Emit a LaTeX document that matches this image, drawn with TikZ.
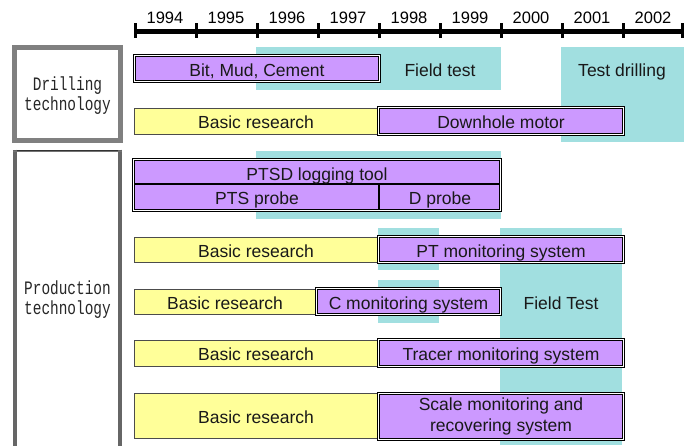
\documentclass[tikz,border=0pt]{standalone}
\usepackage{fontspec}
\setmainfont{Liberation Sans}
\newfontfamily\monofont[FakeStretch=0.76]{Liberation Mono}
\definecolor{lavender}{RGB}{204,153,255}
\definecolor{paleyel}{RGB}{255,255,153}
\definecolor{turq}{RGB}{161,223,224}
\definecolor{boxgray}{RGB}{128,128,128}

\begin{document}
\begin{tikzpicture}[x=1pt,y=-1pt,
  sz/.style 2 args={minimum width=#1pt, minimum height=#2pt},
  txt/.style={inner sep=0pt, align=center, text=black!90, font=\fontsize{17.5}{21}\selectfont},
  mid/.style={text height=15.4pt, text depth=0pt},
  bg/.style={fill=turq, inner sep=0pt},
  basic/.style={draw=black!70, fill=paleyel, line width=0.9pt, txt, mid},
  toolframe/.style={draw=black, double=white, line width=1.1pt, double distance=1.2pt, fill=lavender, txt},
  tool/.style={toolframe, mid},
  lbl/.style={txt, mid},
  yr/.style={inner sep=0pt, font=\fontsize{16.5}{18}\selectfont},
  sect/.style={inner sep=0pt, align=center, text=black!85, font=\monofont\fontsize{19}{20}\selectfont},
  axis/.style={line width=4.5pt},
  tick/.style={line width=3pt}]
\useasboundingbox (0,0) rectangle (684,445);

% time axis
\coordinate (T0) at (134,31.5);
\coordinate (T1) at (684,31.5);
\draw[axis] (T0) -- (T1);
\foreach \yr [count=\i from 0] in {1994,...,2002} {
  \draw[tick] ({135.5+61*\i},23) -- ({135.5+61*\i},38);
  \node[yr] (Y\yr) at ({165+61*\i},18) {\yr};
}
\draw[tick] (682.5,23) -- (682.5,38);

% section boxes
\node[draw=boxgray, line width=5pt, sz={106}{93}] (DRL) at (67.5,94) {};
\node[sect] (DRLT) at (67.5,96) {Drilling\\technology};
\node[draw=black!80, line width=1pt, sz={108}{300}] (PRD) at (67.5,300) {};
\draw[line width=4pt, draw=black!60] ([xshift=2pt]PRD.north west) -- ([xshift=2pt]PRD.south west);
\draw[line width=4pt, draw=black!60] ([xshift=-2pt]PRD.north east) -- ([xshift=-2pt]PRD.south east);
\draw[line width=1pt, draw=black!55] ([yshift=-2pt]PRD.north west) -- ([yshift=-2pt]PRD.north east);
\node[sect] (PRDT) at (67.5,300) {Production\\technology};

% field tests
\node[bg, sz={245}{43}] (FT1) at (378.5,68.5) {};
\node[bg, sz={123}{95}] (TD) at (622.5,94.5) {};
\node[bg, sz={245}{68}] (FT2) at (378.5,185) {};
\node[bg, sz={61}{42}] (FT3) at (408.5,249) {};
\node[bg, sz={61}{43}] (FT4) at (408.5,301.5) {};
\node[bg, sz={122}{217}] (FT5) at (561,336.5) {};
\node[lbl] (FT1L) at (440,69) {Field test};
\node[lbl] (TDL) at (622,69) {Test drilling};
\node[lbl] (FT5L) at (561,302) {Field Test};

% basic research
\node[basic, sz={244}{26}] (BR1) at (256,121) {Basic research};
\node[basic, sz={244}{25}] (BR2) at (256,249.5) {Basic research};
\node[basic, sz={182}{25}] (BR3) at (225,301.5) {Basic research};
\node[basic, sz={244}{26}] (BR4) at (256,353) {Basic research};
\node[basic, sz={244}{45}] (BR5) at (256,415.5) {Basic research};

% development items
\node[tool, sz={244.6}{25.6}] (BMC) at (257,68.5) {Bit, Mud, Cement};
\node[tool, sz={244.6}{26.6}] (DHM) at (501,121) {Downhole motor};
\node[toolframe, sz={366.6}{50.6}] (PTSD) at (317,185) {};
\draw[line width=1.2pt] ([xshift=1.7pt,yshift=1pt]PTSD.west) -- ([xshift=-1.7pt,yshift=1pt]PTSD.east);
\draw[line width=1.2pt] ([xshift=62pt,yshift=1pt]PTSD.center) -- ([xshift=62pt,yshift=1.7pt]PTSD.south);
\node[lbl] (LOG) at (317,173) {PTSD logging tool};
\node[lbl] (PTS) at (257,197) {PTS probe};
\node[lbl] (DPR) at (440,197) {D probe};
\node[tool, sz={244.6}{25.6}] (PTM) at (501,249.5) {PT monitoring system};
\node[tool, sz={183.6}{25.6}] (CM) at (408.5,301.5) {C monitoring system};
\node[tool, sz={244.6}{26.6}] (TRM) at (501,353) {Tracer monitoring system};
\node[toolframe, sz={244.6}{45.6}] (SCM) at (501,416.5) {Scale monitoring and\\recovering system};
\end{tikzpicture}
\end{document}
